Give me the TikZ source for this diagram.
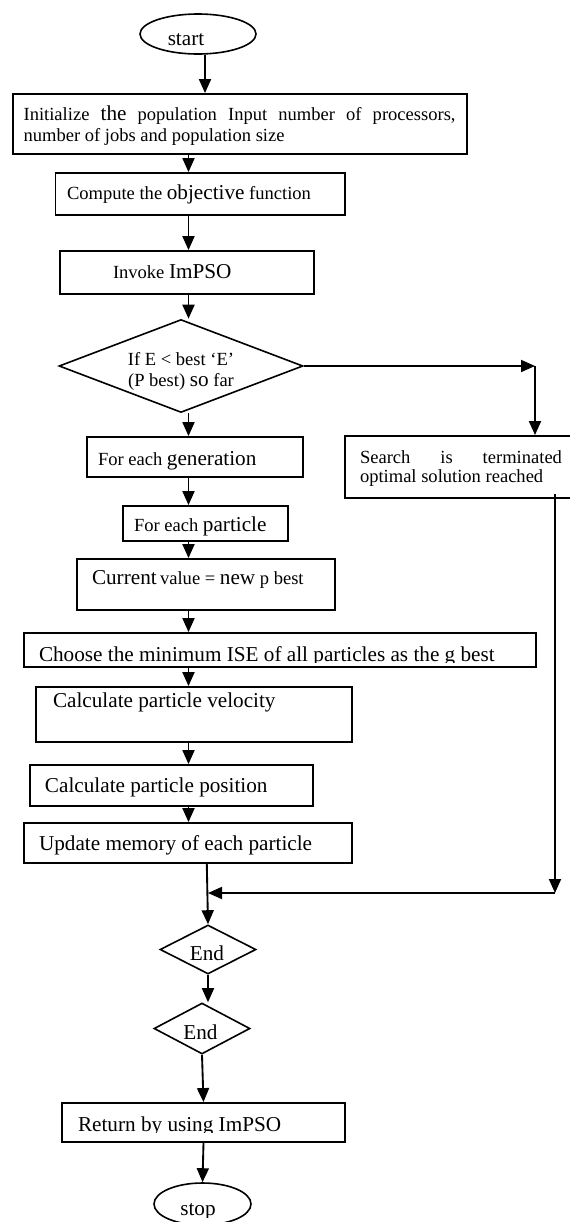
\documentclass[tikz,border=0pt]{standalone}
\usepackage{fontspec}
\setmainfont{Liberation Serif}
\usetikzlibrary{arrows.meta,shapes.geometric}
\def\pxu{*0.75pt}
\newcommand\fsmall{\fontsize{13.9pt}{15.75pt}\selectfont}
\newcommand\fbig{\fontsize{15.9pt}{15.75pt}\selectfont}
\begin{document}
\begin{tikzpicture}[x=0.75pt,y=-0.75pt,
  box/.style={draw, line width=1.4pt, rectangle, inner sep=0pt},
  oval/.style={draw, line width=1.2pt, ellipse, inner sep=0pt},
  dmd/.style={draw, line width=1.2pt, diamond, inner sep=0pt},
  lbl/.style={inner sep=0pt, outer sep=0pt},
  arr/.style={line width=1.4pt, -{Triangle[length=10.5pt,width=9pt]}},
  plain/.style={line width=1.4pt}]
\useasboundingbox (0,0) rectangle (569,1222);

% shapes
\node[oval, minimum width=116\pxu, minimum height=40\pxu] (start) at (198,34) {};
\node[box, minimum width=454.3\pxu, minimum height=60\pxu] (init) at (239.85,124) {};
\node[box, minimum width=289.5\pxu, minimum height=42\pxu] (compute) at (200.25,194) {};
\node[box, minimum width=254\pxu, minimum height=43\pxu] (invoke) at (187,272.5) {};
\node[dmd, minimum width=244\pxu, minimum height=93\pxu] (dec) at (181,366) {};
\node[box, minimum width=216\pxu, minimum height=40\pxu] (gen) at (195,457) {};
\node[box, minimum width=240\pxu, minimum height=62\pxu] (search) at (465,467) {};
\node[box, minimum width=165\pxu, minimum height=35\pxu] (particle) at (205.5,523.5) {};
\node[box, minimum width=258\pxu, minimum height=51\pxu] (current) at (206,584.5) {};
\node[box, minimum width=512.4\pxu, minimum height=34\pxu] (choose) at (279.8,650) {};
\node[box, minimum width=316\pxu, minimum height=55\pxu] (velocity) at (194,714.5) {};
\node[box, minimum width=283\pxu, minimum height=41\pxu] (position) at (171.5,785.5) {};
\node[box, minimum width=328.4\pxu, minimum height=40\pxu] (update) at (187.8,843) {};
\node[dmd, minimum width=96\pxu, minimum height=49\pxu] (end1) at (208,949.5) {};
\node[dmd, minimum width=96\pxu, minimum height=51\pxu] (end2) at (202,1028.5) {};
\node[box, minimum width=283\pxu, minimum height=39\pxu] (return) at (203.5,1122.5) {};
\node[oval, minimum width=97\pxu, minimum height=42\pxu] (stop) at (202.5,1204) {};

% texts
\node[lbl, anchor=base] (tstart) at (186,45) {\fbig start};
\node[lbl, anchor=base west] (tinit) at (23.6,120) {\parbox[t]{324pt}{\fsmall Initialize {\fbig the} population Input number of processors,\linebreak number of jobs and population size}};
\node[lbl, anchor=base west] (tcompute) at (67,199) {\fsmall Compute the {\fbig objective} function};
\node[lbl, anchor=base west] (tinvoke) at (113,278) {\fsmall Invoke {\fbig ImPSO}};
\node[lbl, anchor=base] (tdec) at (181,365) {\parbox[t]{150pt}{\centering\fsmall If E < best ‘E’\\(P best) {\fbig so} far}};
\node[lbl, anchor=base west] (tsearch) at (360,463) {\parbox[t]{151.5pt}{\fontsize{13.9pt}{14.25pt}\selectfont Search is terminated\linebreak optimal solution reached}};
\node[lbl, anchor=base west] (tgen) at (98,465) {\fsmall For each {\fbig generation}};
\node[lbl, anchor=base west] (tparticle) at (134,531) {\fsmall For each {\fbig particle}};
\node[lbl, anchor=base west] (tcurrent) at (92,584) {{\fbig Current} \fsmall value = {\fbig new} p best};
\begin{scope}
\clip (0,600) rectangle (569,662.5);
\node[lbl, anchor=base west] (tchoose) at (39,661) {\fbig Choose the minimum ISE of all particles as the g best};
\end{scope}
\node[lbl, anchor=base west] (tvelocity) at (53,707) {\fbig Calculate particle velocity};
\node[lbl, anchor=base west] (tposition) at (45,792) {\fbig Calculate particle position};
\node[lbl, anchor=base west] (tupdate) at (39,850) {\fbig Update memory of each particle};
\node[lbl, anchor=base] (tend1) at (207,960) {\fbig End};
\node[lbl, anchor=base] (tend2) at (200.5,1039) {\fbig End};
\begin{scope}
\clip (0,1090) rectangle (569,1132.5);
\node[lbl, anchor=base west] (treturn) at (78,1131) {\fbig Return by using ImPSO};
\end{scope}
\begin{scope}
\clip (0,1185) rectangle (569,1217.5);
\node[lbl, anchor=base] (tstop) at (198,1215) {\fbig stop};
\end{scope}

% connectors
\coordinate (axis) at (188.5,0);
\coordinate (c1) at (535,366);
\coordinate (c2) at (555,893);
\draw[arr] ([xshift=7\pxu]start.south) -- ([xshift=7\pxu]start.south |- init.north);
\draw[arr] (init.south -| axis) -- (compute.north -| axis);
\draw[arr] (compute.south -| axis) -- (invoke.north -| axis);
\draw[arr] (invoke.south -| axis) -- (dec.north -| axis);
\draw[arr] (dec.south -| axis) -- (gen.north -| axis);
\draw[arr] (dec.east) -- (c1);
\draw[arr] (c1) -- (c1 |- search.north);
\draw[arr] (gen.south -| axis) -- (particle.north -| axis);
\draw[arr] ([yshift=2\pxu]particle.south -| axis) -- (current.north -| axis);
\draw[arr] (current.south -| axis) -- (choose.north -| axis);
\draw[arr] (choose.south -| axis) -- (velocity.north -| axis);
\draw[arr] (velocity.south -| axis) -- (position.north -| axis);
\draw[arr] (position.south -| axis) -- (update.north -| axis);
\draw[arr] ([xshift=19\pxu]update.south) -- (end1.north);
\draw[arr] ([xshift=90\pxu,yshift=5\pxu]search.south) -- (c2);
\draw[arr] (c2) -- (c2 -| end1.north);
\draw[arr] (end1.south) -- (end1.south |- end2.north);
\draw[arr] (end2.south) -- (return.north);
\draw[arr] (return.south) -- (stop.north);
\end{tikzpicture}
\end{document}
